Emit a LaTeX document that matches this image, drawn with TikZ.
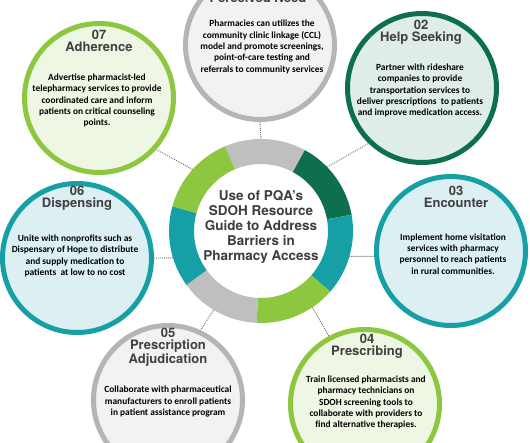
\documentclass[tikz,border=0pt]{standalone}
\usepackage{fontspec}
\setmainfont{Carlito}
\newfontfamily\headfont{TeX Gyre Heros}
\definecolor{cgreen}{HTML}{8DC63F}
\definecolor{cgreenbg}{HTML}{EEF6E4}
\definecolor{cdark}{HTML}{0E6F4F}
\definecolor{cdarkbg}{HTML}{DEEDE8}
\definecolor{cteal}{HTML}{16A0A6}
\definecolor{ctealbg}{HTML}{DCF0F3}
\definecolor{cgray}{HTML}{BFBFBF}
\definecolor{cgraybg}{HTML}{F2F2F2}
\definecolor{hd}{HTML}{404040}
\definecolor{dotc}{HTML}{6A6A6A}
\begin{document}
\begin{tikzpicture}[x=1pt,y=1pt,
  sat/.style={circle, minimum size=149pt, line width=5pt, inner sep=0pt, outer sep=2.5pt},
  greensat/.style={sat, draw=cgreen, fill=cgreenbg},
  darksat/.style={sat, draw=cdark, fill=cdarkbg},
  tealsat/.style={sat, draw=cteal, fill=ctealbg},
  graysat/.style={sat, draw=cgray!95!black, fill=cgraybg},
  head/.style={font=\headfont\bfseries\fontsize{13}{12}\selectfont, text=hd, align=center, inner sep=0pt},
  body/.style={font=\bfseries\fontsize{9.4}{11.3}\selectfont, text=black, align=center, inner sep=0pt},
  title/.style={font=\headfont\bfseries\fontsize{13.5}{15}\selectfont, text=hd!95!black, align=center, inner sep=0pt},
  conn/.style={draw=dotc, line width=0.9pt, dash pattern=on 0.9pt off 1.1pt}]
\useasboundingbox (0,0) rectangle (530,442);
\clip (0,0) rectangle (530,442);
\fill[white] (0,0) rectangle (530,442);

% central ring
\node[circle, minimum size=184pt, inner sep=0pt, outer sep=0pt] (ring) at (261,211) {};

% satellites
\node[graysat]  (c1) at (260,397) {};
\node[darksat]  (c2) at (422,354) {};
\node[tealsat]  (c3) at (451,191) {};
\node[greensat] (c4) at (365,38) {};
\node[graysat]  (c5) at (168,42) {};
\node[tealsat]  (c6) at (77,184) {};
\node[greensat] (c7) at (99,344) {};

% connectors
\draw[conn] (ring.90) -- (c1.-90);
\draw[conn] (ring.44) -- (c2.-134);
\draw[conn] (ring.-16.5) -- (c3.184);
\draw[conn] (ring.-56.5) -- (c4.118);
\draw[conn] (ring.-121) -- (c5.65);
\draw[conn] (ring.-163.5) -- (c6.0);
\draw[conn] (ring.138) -- (c7.-42);

% ring segments
\foreach \a/\b/\c in {113/61.57/cgray, 61.57/10.14/cdark, 10.14/-41.29/cteal, -41.29/-92.71/cgreen, -92.71/-144.14/cgray, -144.14/-195.57/cteal, -195.57/-247/cgreen}
  \fill[\c] ([shift={(\a:92)}]ring.center) arc[start angle=\a, end angle=\b, radius=92]
    -- ([shift={(\b:67)}]ring.center) arc[start angle=\b, end angle=\a, radius=67] -- cycle;

\node[title] (t) at (261,215) {Use of PQA’s\\SDOH Resource\\Guide to Address\\Barriers in\\Pharmacy Access};

% headers
\node[head, anchor=south] (h1) at (258,439.5) {Perceived Need};
\node[head] (h2) at (421,410) {02\\Help Seeking};
\node[head] (h3) at (456,245.5) {03\\Encounter};
\node[head] (h4) at (367,96) {04\\Prescribing};
\node[head] (h5) at (168,95) {05\\Prescription\\Adjudication};
\node[head] (h6) at (77,244) {06\\Dispensing};
\node[head] (h7) at (99,401) {07\\Adherence};

% bodies
\node[body] (b1) at (262,395) {Pharmacies can utilizes the\\community clinic linkage (CCL)\\model and promote screenings,\\point-of-care testing and\\referrals to community services};
\node[body] (b2) at (420,351.5) {Partner with rideshare\\companies to provide\\transportation services to\\deliver prescriptions\ \ to patients\\and improve medication access.};
\node[body] (b3) at (453,188) {Implement home visitation\\services with pharmacy\\personnel to reach patients\\in rural communities.};
\node[body] (b4) at (366,39.5) {Train licensed pharmacists and\\pharmacy technicians on\\SDOH screening tools to\\collaborate with providers to\\find alternative therapies.};
\node[body] (b5) at (168,40.5) {Collaborate with pharmaceutical\\manufacturers to enroll patients\\in patient assistance program};
\node[body] (b6) at (75,186) {Unite with nonprofits such as\\Dispensary of Hope to distribute\\and supply medication to\\patients\ \ at low to no cost};
\node[body] (b7) at (97,341.5) {Advertise pharmacist-led\\telepharmacy services to provide\\coordinated care and inform\\patients on critical counseling\\points.};
\end{tikzpicture}
\end{document}
